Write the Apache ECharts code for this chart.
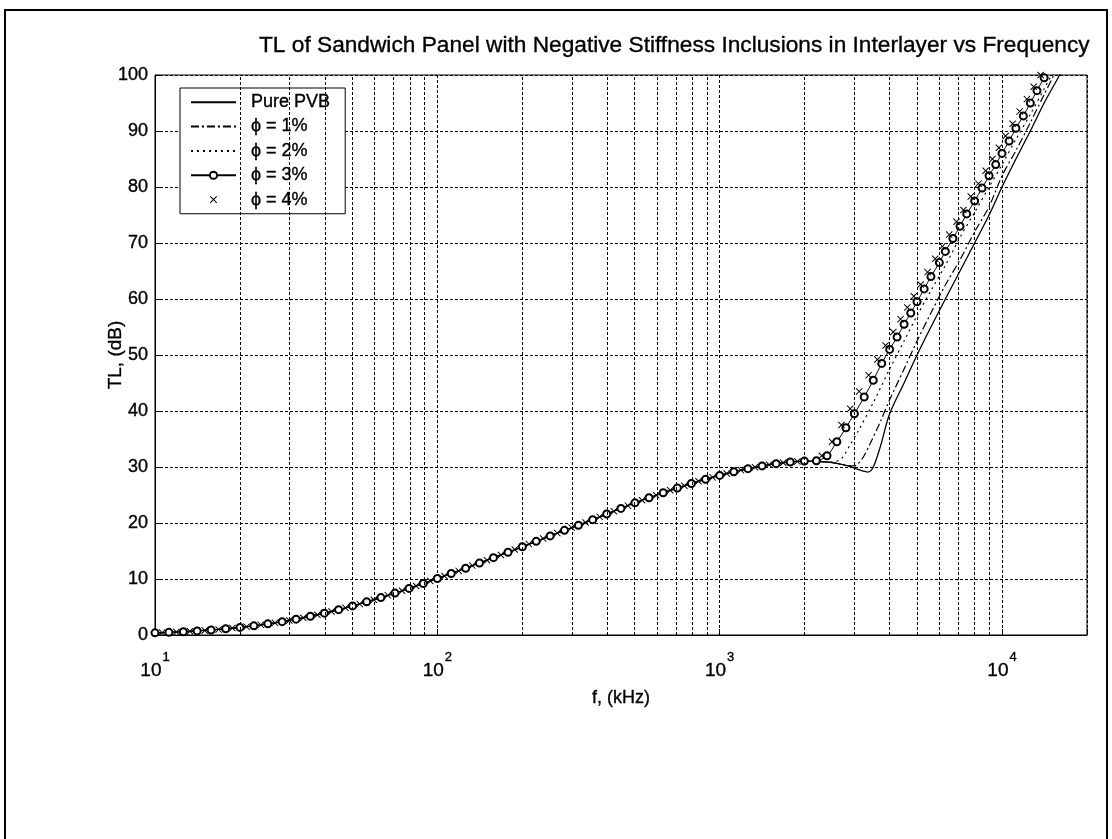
<!DOCTYPE html>
<html><head><meta charset="utf-8">
<script src="https://cdn.jsdelivr.net/npm/echarts@6/dist/echarts.min.js"></script>
<style>html,body{margin:0;padding:0;background:#fff}#c{width:1112px;height:839px}</style>
</head><body><div id="c"></div>
<script>
// shared low-frequency part (all five curves coincide here), read at two interleaved sample sets
const freqLowA = [10,11.2,12.6,14.1,15.8,17.8,20,22.4,25.1,28.2,31.6,35.5,39.8,44.7,50.1,56.2,63.1,70.8,79.4,89.1,100,112,126,141,158,178,200,224,251,282,316,355,398,447,501,562,631,708,794,891,1000,1122,1259,1413,1585,1778,1995];
const tlLowA   = [0.38,0.47,0.59,0.73,0.9,1.11,1.35,1.64,1.99,2.38,2.83,3.34,3.9,4.52,5.19,5.92,6.68,7.48,8.32,9.19,10.08,10.99,11.92,12.86,13.81,14.78,15.75,16.72,17.7,18.69,19.6,20.6,21.6,22.6,23.6,24.5,25.4,26.25,27.05,27.8,28.5,29.15,29.7,30.2,30.6,30.9,31.05];
const freqLowB = [10.6,11.9,13.3,15.0,16.8,18.8,21.1,23.7,26.6,29.9,33.5,37.6,42.2,47.3,53.1,59.6,66.8,75.0,84.1,94.4,106,119,133,150,168,188,211,237,266,299,335,376,422,473,531,596,668,750,841,944,1059,1189,1334,1496,1679,1884];
const tlLowB   = [0.43,0.53,0.66,0.81,1.0,1.23,1.49,1.81,2.17,2.6,3.07,3.61,4.2,4.85,5.55,6.29,7.08,7.9,8.75,9.63,10.53,11.45,12.39,13.34,14.29,15.26,16.23,17.21,18.2,19.18,20.1,21.1,22.1,23.1,24.05,24.95,25.85,26.65,27.45,28.15,28.85,29.45,29.95,30.4,30.75,31.0];

// high-frequency parts
const freqPure = [2200,2500,2800,3000,3200,3350,3500,3700,4000,4500,5000,5600,6300,7100,8000,9000,10000,11200,12600,14100,16000,18000];
const tlPure   = [31.0,30.8,30.3,29.8,29.3,29.1,30.0,33.5,39.5,45,50,55,60,65,70,75,80,85,90,95,100,105];

const freqP1 = [2200,2500,2800,3000,3200,3400,3700,4000,4500,5000,5600,6300,7100,8000,9000,10000,11200,12600,14100,15100,16000];
const tlP1   = [31.0,30.8,30.3,30.2,31.5,34,38,42,47.5,52.5,57.5,62.5,67,72,76.5,82,86.5,91.5,96.5,99.5,102];

const freqP2 = [2200,2500,2700,2900,3100,3500,4000,4500,5000,5600,6300,7100,8000,9000,10000,11200,12600,14100,15000,16000];
const tlP2   = [31.0,30.9,31.5,34,36.5,41.5,47.5,52.5,57,61.5,66,71,75.5,80,84,88.5,93,97.5,100,102];

const freqP3 = [2200,2400,2600,2800,3000,3250,3500,3750,4000,4250,4500,4750,5000,5300,5600,6000,6300,6700,7100,7500,8000,8500,9000,9500,10000,10600,11200,11900,12600,13300,14100,14500];
const tlP3   = [31.1,32,34.5,37,39.5,42.5,45.5,48.5,51,53.2,55.5,57.5,59.5,61.8,64,66.5,68.5,70.8,73,75.2,77.5,79.8,82,84,86,88.2,90.5,92.7,95,97.2,99.5,100.5];

const freqP4 = [2300,2500,2700,2900,3120,3370,3620,3870,4120,4370,4620,4870,5150,5450,5800,6150,6500,6900,7300,7750,8250,8750,9250,9750,10300,10900,11550,12250,12950,13700];
const tlP4   = [32.0,34.5,37.5,40.4,43.5,46.4,49.2,51.7,54.1,56.4,58.5,60.5,62.6,64.8,67.2,69.4,71.5,73.8,75.9,78.3,80.6,82.9,85.0,87.0,89.1,91.3,93.5,95.7,97.9,100.0];

const seriesNames = ['Pure PVB','\u03d5 = 1%','\u03d5 = 2%','\u03d5 = 3%','\u03d5 = 4%'];
const yTicks = [0,10,20,30,40,50,60,70,80,90,100];
const minorGridX = [20,30,40,50,60,70,80,90,200,300,400,500,600,700,800,900,2000,3000,4000,5000,6000,7000,8000,9000];

function pairs(f, v) { return f.map((x, i) => [x, v[i]]); }
function curveA(fh, vh) { return pairs(freqLowA, tlLowA).concat(pairs(fh, vh)); }
function curveB(fh, vh) { return pairs(freqLowB, tlLowB).concat(pairs(fh, vh)); }

const FONT = 'Liberation Sans, Arial, sans-serif';
const TB = { textBorderColor: '#000', textBorderWidth: 0.35 };
const gridStyle = { color: '#000', width: 1, type: [3, 2] };
const xMark = 'path://M0,1 L1,0 L5,4 L9,0 L10,1 L6,5 L10,9 L9,10 L5,6 L1,10 L0,9 L4,5 Z';

const chart = echarts.init(document.getElementById('c'), null, { renderer: 'canvas' });
chart.setOption({
  animation: false,
  backgroundColor: '#fff',
  textStyle: { fontFamily: FONT, color: '#000' },
  title: {
    text: 'TL of Sandwich Panel with Negative Stiffness Inclusions in Interlayer vs Frequency',
    left: 254, top: 29,
    textStyle: Object.assign({ fontFamily: FONT, fontSize: 22.7, fontWeight: 'normal', color: '#000' }, TB)
  },
  graphic: [{
    type: 'rect', shape: { x: 5, y: 10, width: 1102, height: 900 },
    style: { fill: 'none', stroke: '#000', lineWidth: 2 }, silent: true, z: 100
  }],
  grid: { left: 155, right: 25, top: 75, bottom: 204, show: true, borderColor: '#000', borderWidth: 1, backgroundColor: '#fff' },
  legend: {
    left: 180, top: 88, orient: 'vertical',
    itemWidth: 45, itemHeight: 9, itemGap: 6,
    padding: [5, 15, 5, 10],
    borderColor: '#000', borderWidth: 1, backgroundColor: '#fff',
    formatter: function (n) { return '  ' + n; },
    textStyle: Object.assign({ fontFamily: FONT, fontSize: 18, color: '#000' }, TB),
    data: [
      { name: seriesNames[0], itemStyle: { opacity: 0 } },
      { name: seriesNames[1], itemStyle: { opacity: 0 } },
      { name: seriesNames[2], itemStyle: { opacity: 0 } },
      { name: seriesNames[3] },
      { name: seriesNames[4] }
    ]
  },
  xAxis: {
    type: 'log', logBase: 10, min: 10, max: 20000,
    name: 'f, (kHz)', nameLocation: 'middle', nameGap: 54, nameMoveOverlap: false,
    nameTextStyle: Object.assign({ fontFamily: FONT, fontSize: 18, color: '#000' }, TB),
    axisLine: { show: true, lineStyle: { color: '#000' } },
    axisTick: { show: true, inside: true, length: 6, lineStyle: { color: '#000' } },
    splitLine: { show: true, lineStyle: gridStyle },
    axisLabel: {
      margin: 16,
      formatter: function (v) {
        const e = Math.log10(v);
        if (Math.abs(e - Math.round(e)) > 1e-6) return '';
        return '{b|10}{s|' + Math.round(e) + '}';
      },
      rich: {
        b: Object.assign({ fontFamily: FONT, fontSize: 19, color: '#000' }, TB),
        s: Object.assign({ fontFamily: FONT, fontSize: 13, color: '#000', padding: [0, 0, 26, 1] }, TB)
      }
    }
  },
  yAxis: {
    type: 'value', min: 0, max: 100, interval: 10,
    name: 'TL, (dB)', nameLocation: 'middle', nameGap: 30, nameRotate: 90, nameMoveOverlap: false,
    nameTextStyle: Object.assign({ fontFamily: FONT, fontSize: 19, color: '#000' }, TB),
    axisLine: { show: true, lineStyle: { color: '#000' } },
    axisTick: { show: true, inside: true, length: 6, lineStyle: { color: '#000' } },
    splitLine: { show: true, lineStyle: gridStyle },
    axisLabel: Object.assign({
      margin: 7, fontFamily: FONT, fontSize: 18, color: '#000',
      formatter: function (v) { return yTicks.indexOf(v) >= 0 ? String(v) : ''; }
    }, TB)
  },
  series: [
    {
      name: '_grid', type: 'line', data: [], silent: true,
      markLine: {
        silent: true, symbol: 'none', label: { show: false },
        lineStyle: gridStyle, animation: false,
        data: minorGridX.map(v => ({ xAxis: v }))
      }
    },
    {
      name: seriesNames[0], type: 'line', data: curveA(freqPure, tlPure),
      symbol: 'none', smooth: 0.3, lineStyle: { color: '#000', width: 1.3 }, itemStyle: { color: '#000' }
    },
    {
      name: seriesNames[1], type: 'line', data: curveA(freqP1, tlP1),
      symbol: 'none', smooth: 0.3, lineStyle: { color: '#000', width: 1.2, type: [8, 3, 2, 3] }, itemStyle: { color: '#000' }
    },
    {
      name: seriesNames[2], type: 'line', data: curveA(freqP2, tlP2),
      symbol: 'none', smooth: 0.3, lineStyle: { color: '#000', width: 1.2, type: [2, 4] }, itemStyle: { color: '#000' }
    },
    {
      name: seriesNames[3], type: 'line', data: curveA(freqP3, tlP3),
      symbol: 'emptyCircle', symbolSize: 7, showAllSymbol: true, smooth: 0.3,
      lineStyle: { color: '#000', width: 1 }, itemStyle: { color: '#000', borderColor: '#000', borderWidth: 1 }
    },
    {
      name: seriesNames[4], type: 'line', data: curveB(freqP4, tlP4),
      symbol: xMark, symbolSize: 7, showAllSymbol: true,
      lineStyle: { color: '#000', width: 1, opacity: 0 }, itemStyle: { color: '#000' }
    }
  ]
});
</script></body></html>
